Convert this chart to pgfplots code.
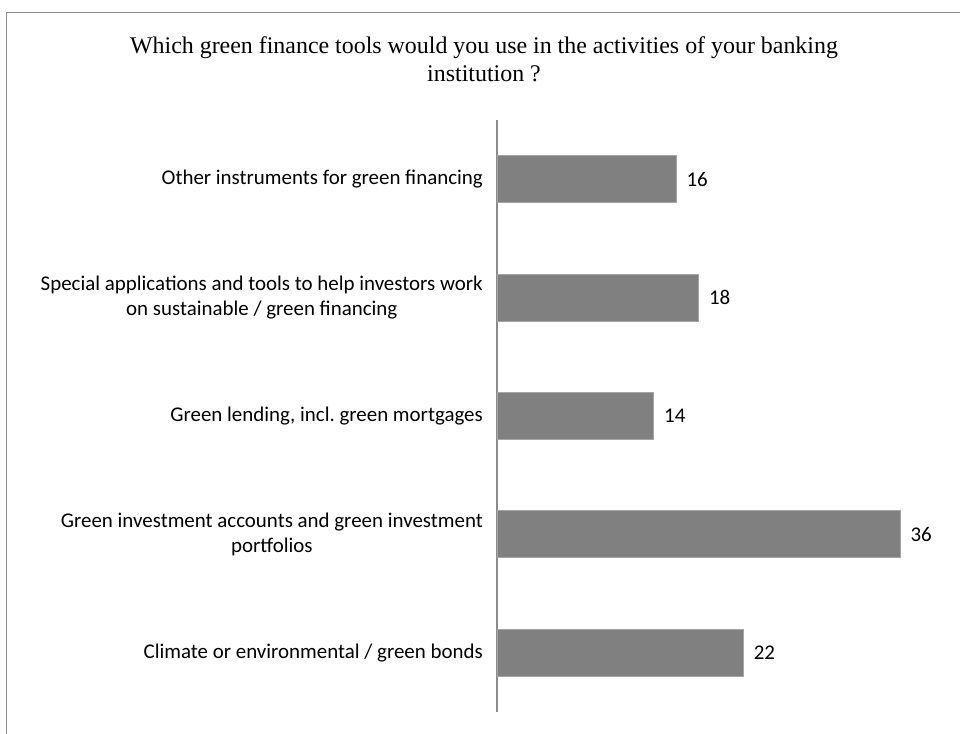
\documentclass[border=0pt]{standalone}
\usepackage{pgfplots}
\pgfplotsset{compat=1.18}
\usepackage{fontspec}
\setmainfont{Liberation Serif}
\newfontfamily\carlito{Carlito}
\definecolor{barfill}{HTML}{808080}
\definecolor{baredge}{HTML}{A6A6A6}
\definecolor{framegray}{HTML}{8C8C8C}
\frenchspacing
\begin{document}
\begin{tikzpicture}[x=1bp,y=1bp]
\useasboundingbox (0,0) rectangle (960,734);
% outer frame (cut by the page at right and bottom)
\draw[framegray, line width=1.3bp] (6.5,0) -- (6.5,721.3) -- (960,721.3);
% title
\node[anchor=base, font=\fontsize{24}{28}\selectfont] at (484,680) {Which green finance tools would you use in the activities of your banking};
\node[anchor=base, font=\fontsize{24}{28}\selectfont] at (484,652) {institution ?};
\begin{axis}[
  at={(497bp,22bp)}, anchor=south west,
  scale only axis,
  width=448bp, height=592bp,
  xmin=0, xmax=40,
  ymin=-0.5, ymax=4.5,
  xbar, bar width=47bp,
  hide x axis,
  axis y line*=left,
  y axis line style={framegray, line width=1.3bp, -},
  ytick={0,1,2,3,4},
  yticklabels={
    {Climate or environmental / green bonds},
    {Green investment accounts and green investment\\portfolios},
    {Green lending, incl.\ green mortgages},
    {Special applications and tools to help investors work\\on sustainable / green financing},
    {Other instruments for green financing}},
  major tick length=0pt,
  yticklabel style={align=center, font=\carlito\fontsize{21}{25}\selectfont, inner sep=0pt, xshift=-14bp},
  nodes near coords,
  nodes near coords style={font=\carlito\fontsize{21}{25}\selectfont, anchor=west, xshift=10bp, inner sep=0pt, black},
  point meta=explicit symbolic,
]
\addplot[fill=barfill, draw=baredge, line width=0.8bp] coordinates {
  (22,0) [22]
  (36,1) [36]
  (14,2) [14]
  (18,3) [18]
  (16,4) [16]
};
\end{axis}
\end{tikzpicture}
\end{document}
